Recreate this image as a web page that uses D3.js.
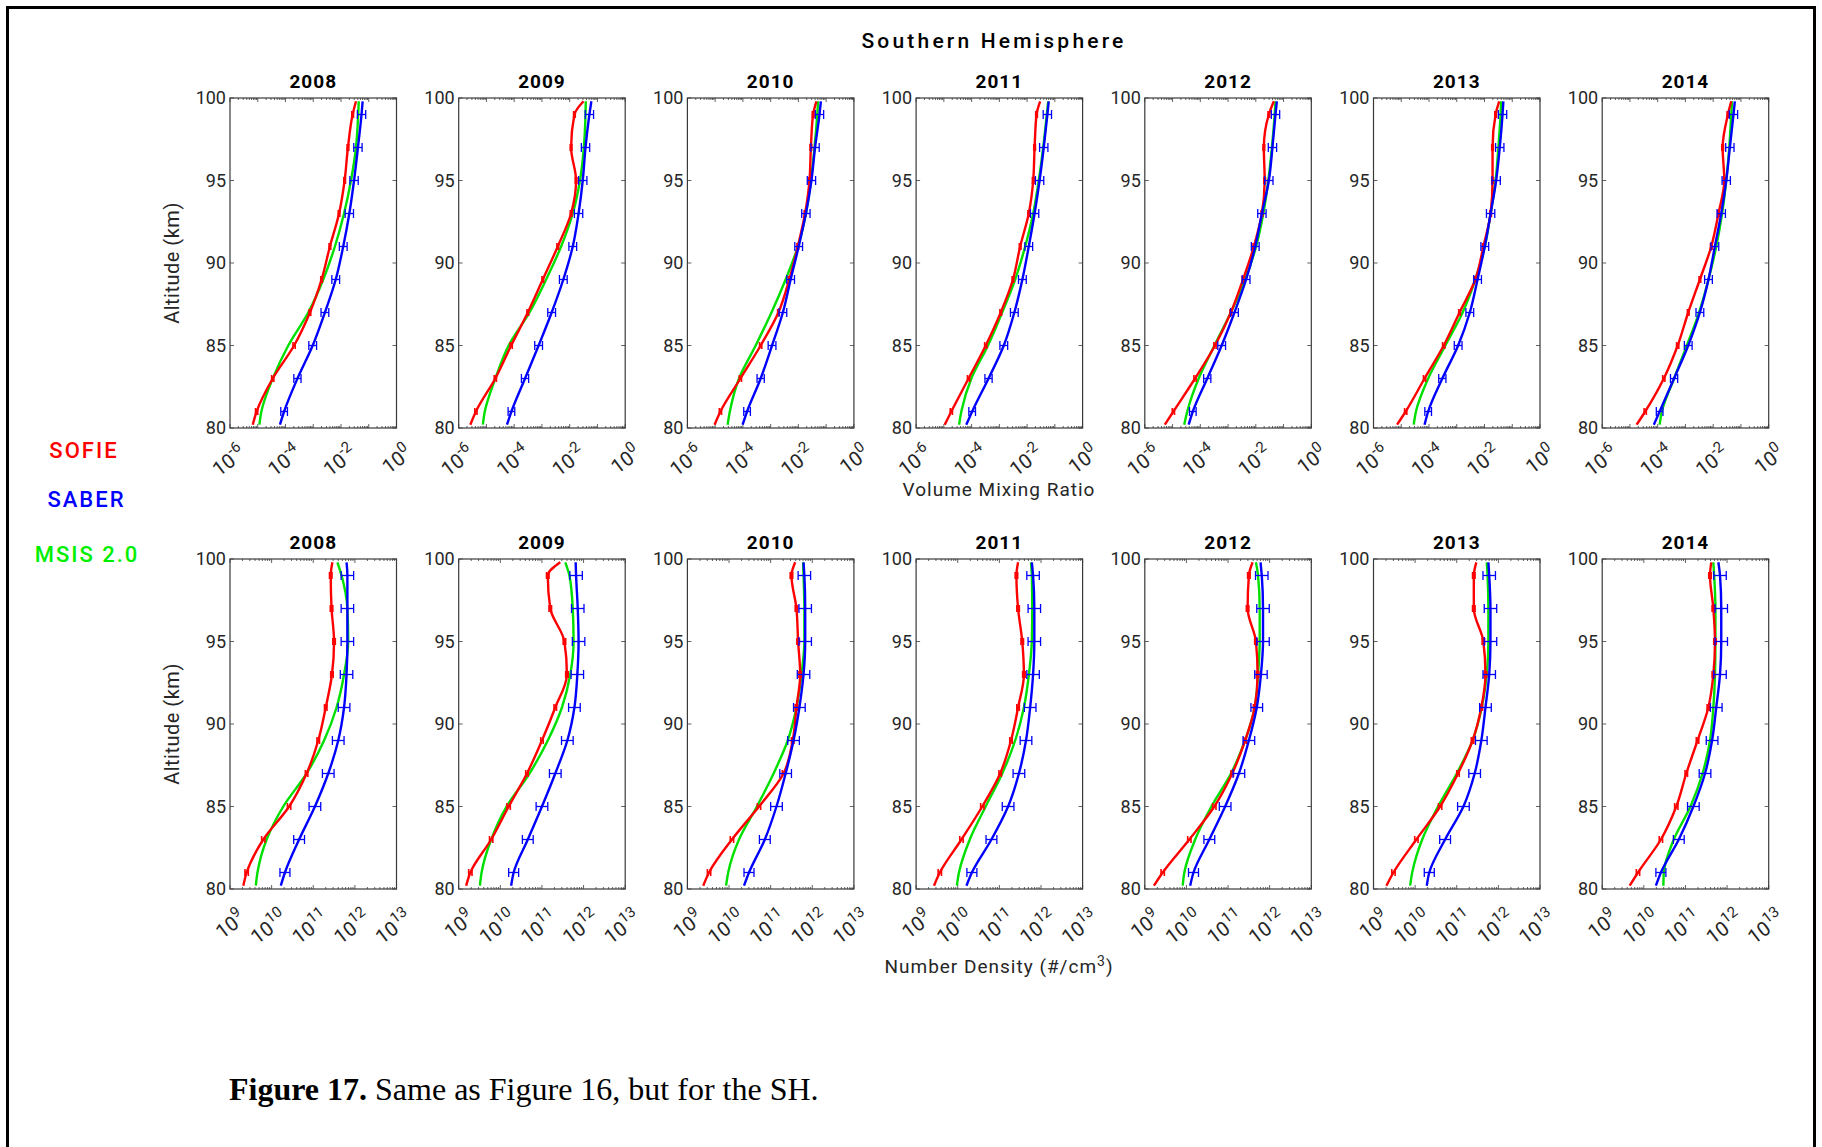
<!DOCTYPE html>
<html>
<head>
<meta charset="utf-8">
<script src="https://cdn.jsdelivr.net/npm/d3@7"></script>
<style>
  body { margin: 0; background: #fff; }
</style>
</head>
<body>
<div class="chart"></div>
<script>
let years = [2008, 2009, 2010, 2011, 2012, 2013, 2014];

// altitude levels (km) the profiles were read on; error bars sit on odd km
let altitudes = [80.2, 81, 83, 85, 87, 89, 91, 93, 95, 97, 99, 99.8];
let errorLevels = [81, 83, 85, 87, 89, 91, 93, 95, 97, 99];

// log10 of volume mixing ratio, one row per year
let sofieVmr = [
  [-5.18, -5.04, -4.46, -3.69, -3.12, -2.70, -2.40, -2.07, -1.87, -1.75, -1.58, -1.46],
  [-5.58, -5.38, -4.68, -4.11, -3.51, -2.97, -2.43, -1.95, -1.77, -1.95, -1.83, -1.50],
  [-5.02, -4.81, -4.09, -3.36, -2.72, -2.33, -2.02, -1.76, -1.60, -1.55, -1.47, -1.35],
  [-4.97, -4.73, -4.11, -3.49, -2.95, -2.51, -2.25, -1.94, -1.78, -1.73, -1.66, -1.53],
  [-5.28, -4.97, -4.19, -3.47, -2.90, -2.46, -2.07, -1.78, -1.68, -1.71, -1.53, -1.35],
  [-5.15, -4.84, -4.16, -3.47, -2.90, -2.33, -2.04, -1.78, -1.71, -1.71, -1.60, -1.47],
  [-4.76, -4.45, -3.78, -3.28, -2.90, -2.48, -2.07, -1.81, -1.60, -1.66, -1.47, -1.35]
];
let msisVmr = [
  [-4.94, -4.87, -4.46, -3.90, -3.18, -2.64, -2.22, -1.89, -1.64, -1.46, -1.38, -1.36],
  [-5.13, -5.06, -4.68, -4.20, -3.45, -2.85, -2.31, -1.89, -1.63, -1.49, -1.43, -1.42],
  [-4.55, -4.47, -4.14, -3.54, -2.97, -2.46, -2.02, -1.73, -1.55, -1.42, -1.32, -1.29],
  [-4.45, -4.37, -4.01, -3.41, -2.90, -2.43, -2.07, -1.78, -1.58, -1.42, -1.29, -1.24],
  [-4.58, -4.47, -4.06, -3.49, -2.90, -2.38, -1.99, -1.73, -1.55, -1.42, -1.32, -1.29],
  [-4.55, -4.47, -4.03, -3.41, -2.79, -2.33, -1.99, -1.78, -1.60, -1.50, -1.42, -1.40],
  [-3.93, -3.85, -3.41, -2.95, -2.51, -2.17, -1.89, -1.68, -1.53, -1.42, -1.35, -1.32]
];
let saberVmr = [
  [-4.20, -4.05, -3.57, -3.02, -2.58, -2.19, -1.92, -1.70, -1.53, -1.39, -1.26, -1.22],
  [-4.26, -4.10, -3.61, -3.12, -2.65, -2.23, -1.89, -1.68, -1.53, -1.43, -1.29, -1.22],
  [-4.01, -3.85, -3.36, -2.95, -2.56, -2.28, -1.99, -1.73, -1.53, -1.40, -1.24, -1.19],
  [-4.19, -3.98, -3.39, -2.84, -2.46, -2.17, -1.94, -1.73, -1.55, -1.40, -1.27, -1.22],
  [-4.42, -4.27, -3.75, -3.23, -2.77, -2.35, -2.02, -1.78, -1.53, -1.40, -1.29, -1.24],
  [-4.16, -4.03, -3.52, -2.95, -2.53, -2.25, -1.99, -1.78, -1.58, -1.45, -1.35, -1.32],
  [-4.14, -3.93, -3.41, -2.90, -2.48, -2.17, -1.94, -1.71, -1.53, -1.40, -1.27, -1.22]
];

// log10 of number density (#/cm3)
let sofieDen = [
  [9.32, 9.40, 9.80, 10.42, 10.84, 11.12, 11.30, 11.45, 11.50, 11.44, 11.42, 11.46],
  [9.18, 9.28, 9.78, 10.20, 10.64, 11.00, 11.32, 11.60, 11.54, 11.20, 11.14, 11.44],
  [9.38, 9.52, 10.07, 10.72, 11.31, 11.53, 11.62, 11.71, 11.66, 11.62, 11.50, 11.59],
  [9.43, 9.57, 10.09, 10.59, 11.02, 11.28, 11.45, 11.59, 11.55, 11.45, 11.41, 11.45],
  [9.22, 9.43, 10.07, 10.67, 11.10, 11.41, 11.64, 11.71, 11.67, 11.47, 11.50, 11.59],
  [9.31, 9.48, 10.03, 10.60, 11.03, 11.38, 11.59, 11.69, 11.64, 11.41, 11.41, 11.47],
  [9.66, 9.86, 10.41, 10.78, 11.02, 11.29, 11.55, 11.67, 11.71, 11.67, 11.59, 11.62]
];
let msisDen = [
  [9.62, 9.66, 9.88, 10.28, 10.84, 11.26, 11.56, 11.74, 11.84, 11.82, 11.68, 11.58],
  [9.51, 9.55, 9.78, 10.15, 10.70, 11.14, 11.48, 11.68, 11.76, 11.74, 11.66, 11.56],
  [9.93, 9.98, 10.24, 10.67, 11.07, 11.41, 11.62, 11.74, 11.81, 11.81, 11.79, 11.78],
  [9.98, 10.03, 10.29, 10.67, 11.07, 11.38, 11.59, 11.71, 11.78, 11.79, 11.78, 11.76],
  [9.91, 9.95, 10.21, 10.60, 11.07, 11.41, 11.64, 11.72, 11.76, 11.76, 11.72, 11.67],
  [9.88, 9.93, 10.17, 10.55, 11.00, 11.38, 11.60, 11.72, 11.76, 11.76, 11.74, 11.72],
  [10.47, 10.48, 10.72, 11.12, 11.41, 11.59, 11.67, 11.71, 11.72, 11.72, 11.69, 11.67]
];
let saberDen = [
  [10.22, 10.32, 10.66, 11.04, 11.36, 11.60, 11.74, 11.80, 11.82, 11.82, 11.82, 11.80],
  [10.26, 10.32, 10.66, 11.00, 11.32, 11.61, 11.78, 11.85, 11.88, 11.86, 11.82, 11.81],
  [10.36, 10.48, 10.86, 11.14, 11.36, 11.55, 11.69, 11.79, 11.83, 11.83, 11.81, 11.79],
  [10.21, 10.34, 10.81, 11.21, 11.47, 11.64, 11.74, 11.81, 11.84, 11.84, 11.81, 11.78],
  [10.09, 10.17, 10.55, 10.93, 11.26, 11.50, 11.69, 11.79, 11.84, 11.84, 11.81, 11.78],
  [10.28, 10.34, 10.72, 11.16, 11.43, 11.59, 11.69, 11.78, 11.81, 11.81, 11.78, 11.76],
  [10.29, 10.41, 10.84, 11.19, 11.47, 11.64, 11.74, 11.83, 11.86, 11.86, 11.83, 11.79]
];

// error bar half widths in decades, per error level
let saberErr = [0.12, 0.13, 0.14, 0.14, 0.14, 0.14, 0.15, 0.15, 0.15, 0.15];
let sofieErr = [0.04, 0.04, 0.04, 0.03, 0.03, 0.03, 0.03, 0.03, 0.03, 0.03];

let vmrTicks = [-6, -4, -2, 0];
let denTicks = [9, 10, 11, 12, 13];
let altTicks = [80, 85, 90, 95, 100];

let config = {
  root: 'div.chart',
  width: 1822,
  height: 1147,
  font: 'Roboto, "DejaVu Sans", sans-serif',
  textColor: '#262626',
  axisColor: '#3a3a3a',
  panelLeft: 230,
  panelPitch: 228.7,
  panelWidth: 166.5,
  panelHeight: 330,
  sofieColor: '#ff0000',
  saberColor: '#0000ff',
  msisColor: '#00e000',
  lineWidth: 2.4
};

let svg = d3.select(config.root).append('svg')
  .attr('width', config.width)
  .attr('height', config.height);

svg.append('rect')
  .attr('width', config.width).attr('height', config.height)
  .attr('fill', '#fff');

// page frame (bottom edge runs off the picture)
svg.append('rect')
  .attr('x', 7.5).attr('y', 7.5)
  .attr('width', 1807).attr('height', 1200)
  .attr('fill', 'none')
  .attr('stroke', '#000')
  .attr('stroke-width', 3);

let rows = [
  {top: 98, domain: [1e-6, 1], ticks: vmrTicks, sofie: sofieVmr, msis: msisVmr, saber: saberVmr,
   label: 'Volume Mixing Ratio', labelY: 489, tickDrop: 16},
  {top: 559, domain: [1e9, 1e13], ticks: denTicks, sofie: sofieDen, msis: msisDen, saber: saberDen,
   label: 'Number Density (#/cm', labelY: 966, tickDrop: 20}
];

let y = d3.scaleLinear().domain([80, 100]).range([config.panelHeight, 0]);

function profilePoints(values) {
  return altitudes.map((a, i) => ({alt: a, v: Math.pow(10, values[i])}));
}

function errorPoints(values, err) {
  return errorLevels.map(function(level, j) {
    let v = values[altitudes.indexOf(level)];
    return {alt: level, lo: Math.pow(10, v - err[j]), hi: Math.pow(10, v + err[j])};
  });
}

function drawErrors(g, x, data, color, width, cap) {
  let bars = g.append('g').selectAll('g').data(data).enter().append('g')
    .attr('stroke', color)
    .attr('stroke-width', width);
  bars.append('line')
    .attr('x1', d => x(d.lo)).attr('x2', d => x(d.hi))
    .attr('y1', d => y(d.alt)).attr('y2', d => y(d.alt));
  bars.append('line')
    .attr('x1', d => x(d.lo)).attr('x2', d => x(d.lo))
    .attr('y1', d => y(d.alt) - cap).attr('y2', d => y(d.alt) + cap);
  bars.append('line')
    .attr('x1', d => x(d.hi)).attr('x2', d => x(d.hi))
    .attr('y1', d => y(d.alt) - cap).attr('y2', d => y(d.alt) + cap);
}

function drawPanel(g, x, row, i) {
  let w = config.panelWidth, h = config.panelHeight;

  g.append('rect')
    .attr('width', w).attr('height', h)
    .attr('fill', '#fff')
    .attr('stroke', config.axisColor)
    .attr('stroke-width', 1.2);

  // log ticks, inward on bottom and top
  let xt = x.ticks();
  let isMajor = t => Math.abs(Math.log10(t) - Math.round(Math.log10(t))) < 1e-6;
  let tk = g.append('g').attr('stroke', config.axisColor).attr('stroke-width', 0.8);
  xt.forEach(function(t) {
    let len = isMajor(t) ? 4 : 2;
    tk.append('line').attr('x1', x(t)).attr('x2', x(t)).attr('y1', h).attr('y2', h - len);
    tk.append('line').attr('x1', x(t)).attr('x2', x(t)).attr('y1', 0).attr('y2', len);
  });
  altTicks.forEach(function(a) {
    tk.append('line').attr('x1', 0).attr('x2', 4).attr('y1', y(a)).attr('y2', y(a));
    tk.append('line').attr('x1', w).attr('x2', w - 4).attr('y1', y(a)).attr('y2', y(a));
  });

  g.selectAll('.ylab').data(altTicks).enter().append('text')
    .attr('x', -4).attr('y', d => y(d))
    .attr('dy', '0.36em')
    .attr('text-anchor', 'end')
    .attr('font-family', config.font)
    .attr('font-size', '18px')
    .attr('fill', config.textColor)
    .text(d => d);

  // rotated 10^n labels
  let xl = g.selectAll('.xlab').data(row.ticks).enter().append('text')
    .attr('transform', d => 'translate(' + (x(Math.pow(10, d)) + 8) + ',' + (h + row.tickDrop) + ') rotate(-37)')
    .attr('text-anchor', 'end')
    .attr('font-family', config.font)
    .attr('font-size', '20px')
    .attr('fill', config.textColor);
  xl.append('tspan').attr('dy', '0.75em').text('10');
  xl.append('tspan').attr('dy', -9).attr('font-size', '15px').text(d => d);

  g.append('text')
    .attr('x', w / 2).attr('y', -10)
    .attr('text-anchor', 'middle')
    .attr('font-family', config.font)
    .attr('font-size', '19px')
    .attr('font-weight', 'bold')
    .attr('letter-spacing', 1)
    .attr('fill', '#000')
    .text(years[i]);

  let line = d3.line()
    .x(d => x(d.v))
    .y(d => y(d.alt))
    .curve(d3.curveMonotoneY);

  g.append('path')
    .attr('d', line(profilePoints(row.msis[i])))
    .attr('fill', 'none')
    .attr('stroke', config.msisColor)
    .attr('stroke-width', config.lineWidth);

  g.append('path')
    .attr('d', line(profilePoints(row.sofie[i])))
    .attr('fill', 'none')
    .attr('stroke', config.sofieColor)
    .attr('stroke-width', config.lineWidth)
    .attr('stroke-linejoin', 'round');
  drawErrors(g, x, errorPoints(row.sofie[i], sofieErr), config.sofieColor, 1.6, 3.5);

  g.append('path')
    .attr('d', line(profilePoints(row.saber[i])))
    .attr('fill', 'none')
    .attr('stroke', config.saberColor)
    .attr('stroke-width', config.lineWidth);
  drawErrors(g, x, errorPoints(row.saber[i], saberErr), config.saberColor, 1.3, 4.5);
}

rows.forEach(function(row) {
  let x = d3.scaleLog().domain(row.domain).range([0, config.panelWidth]);
  years.forEach(function(year, i) {
    let g = svg.append('g')
      .attr('transform', 'translate(' + (config.panelLeft + i * config.panelPitch) + ',' + row.top + ')');
    drawPanel(g, x, row, i);
  });

  svg.append('text')
    .attr('transform', 'translate(172,' + (row.top + config.panelHeight / 2) + ') rotate(-90)')
    .attr('text-anchor', 'middle')
    .attr('dy', '0.36em')
    .attr('font-family', config.font)
    .attr('font-size', '20px')
    .attr('letter-spacing', 0.5)
    .attr('fill', config.textColor)
    .text('Altitude (km)');

  let lab = svg.append('text')
    .attr('x', 999).attr('y', row.labelY)
    .attr('dy', '0.36em')
    .attr('text-anchor', 'middle')
    .attr('font-family', config.font)
    .attr('font-size', '19px')
    .attr('letter-spacing', 1)
    .attr('fill', config.textColor)
    .text(row.label);
  if (row.top > 300) {
    lab.append('tspan').attr('dy', -7).attr('font-size', '14px').text('3');
    lab.append('tspan').attr('dy', 7).text(')');
  }
});

svg.append('text')
  .attr('x', 994).attr('y', 40)
  .attr('dy', '0.36em')
  .attr('text-anchor', 'middle')
  .attr('font-family', config.font)
  .attr('font-size', '21px')
  .attr('font-weight', 500)
  .attr('letter-spacing', 3.2)
  .attr('fill', '#000')
  .text('Southern Hemisphere');

// legend
let legend = [
  {name: 'SOFIE', color: config.sofieColor, x: 84, y: 450},
  {name: 'SABER', color: config.saberColor, x: 86.5, y: 499},
  {name: 'MSIS 2.0', color: '#00ee00', x: 87, y: 554}
];
svg.selectAll('.legend').data(legend).enter().append('text')
  .attr('x', d => d.x).attr('y', d => d.y)
  .attr('dy', '0.36em')
  .attr('text-anchor', 'middle')
  .attr('font-family', config.font)
  .attr('font-size', '22px')
  .attr('font-weight', 500)
  .attr('letter-spacing', 2)
  .attr('fill', d => d.color)
  .text(d => d.name);

let caption = svg.append('text')
  .attr('x', 229).attr('y', 1100)
  .attr('font-family', '"Liberation Serif", "Times New Roman", serif')
  .attr('font-size', '32px')
  .attr('fill', '#000');
caption.append('tspan').attr('font-weight', 'bold').text('Figure 17.');
caption.append('tspan').text(' Same as Figure 16, but for the SH.');
</script>
</body>
</html>
